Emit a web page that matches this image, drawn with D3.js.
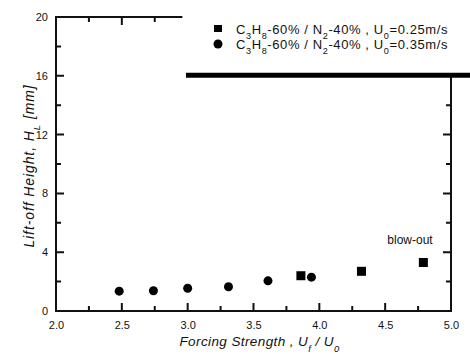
<!DOCTYPE html>
<html>
<head>
<meta charset="utf-8">
<script src="https://cdn.jsdelivr.net/npm/d3@7"></script>
<style>
  body { margin: 0; background: #fff; }
  svg { font-family: "Liberation Sans", Arial, sans-serif; }
</style>
</head>
<body>
<svg width="470" height="354"></svg>
<script>
// forcing strength Uf/U0 and lift-off height HL [mm]
const squareX = [3.86, 4.32, 4.79]
const squareY = [2.4, 2.7, 3.3]
const circleX = [2.48, 2.74, 3.0, 3.31, 3.61, 3.94]
const circleY = [1.35, 1.38, 1.55, 1.65, 2.05, 2.3]
const xTicks = [2.0, 2.5, 3.0, 3.5, 4.0, 4.5, 5.0]
const yTicks = [0, 4, 8, 12, 16, 20]
const legendLabels = ["0.25m/s", "0.35m/s"]

const margin = { top: 17, right: 19, bottom: 43, left: 56 }
const width = 470, height = 354

const x = d3.scaleLinear()
    .domain([2, 5])
    .range([margin.left, width - margin.right])
const y = d3.scaleLinear()
    .domain([0, 20])
    .range([height - margin.bottom, margin.top])

const svg = d3.select("svg")

const minorX = d3.range(2.25, 5, 0.25)
const minorY = d3.range(2, 20, 2)
const isMajorX = d => Math.abs(d * 2 - Math.round(d * 2)) < 1e-6
const isMajorY = d => d % 4 === 0

// tick labels from d3 axes
svg.append("g")
    .attr("transform", `translate(0,${y(0)})`)
    .call(d3.axisBottom(x).tickValues(xTicks).tickSize(0).tickPadding(10).tickFormat(d3.format(".1f")))
    .call(g => g.select(".domain").remove())
    .call(g => g.selectAll("text").attr("font-size", 11).attr("fill", "#111"))
svg.append("g")
    .attr("transform", `translate(${x(2)},0)`)
    .call(d3.axisLeft(y).tickValues(yTicks).tickSize(0).tickPadding(8))
    .call(g => g.select(".domain").remove())
    .call(g => g.selectAll("text").attr("font-size", 11).attr("fill", "#111"))

// inward tick marks, drawn as one path
const tickPath = d3.path()
minorX.forEach(d => {
  const h = isMajorX(d) ? 8 : 5
  tickPath.moveTo(x(d), y(0)); tickPath.lineTo(x(d), y(0) - h)
  if (d < 3) { tickPath.moveTo(x(d), y(20)); tickPath.lineTo(x(d), y(20) + h) }
})
minorY.forEach(d => {
  const w = isMajorY(d) ? 8 : 5
  tickPath.moveTo(x(2), y(d)); tickPath.lineTo(x(2) + w, y(d))
  if (d < 16) { tickPath.moveTo(x(5), y(d)); tickPath.lineTo(x(5) - w, y(d)) }
})
svg.append("path")
    .attr("d", tickPath.toString())
    .attr("fill", "none")
    .attr("stroke", "#111")
    .attr("stroke-width", 2)

// frame
svg.append("path")
    .attr("d", `M${x(2.96)},${y(20)}H${x(2)}V${y(0)}H${x(5)}V${y(16)}`)
    .attr("fill", "none")
    .attr("stroke", "#111")
    .attr("stroke-width", 2)

// white legend patch with heavy rule under it
svg.append("rect")
    .attr("x", x(3.0)).attr("y", 0)
    .attr("width", width - x(3.0)).attr("height", y(16) - 2)
    .attr("fill", "#fff")
svg.append("line")
    .attr("x1", 186).attr("x2", width)
    .attr("y1", y(16) - 0.5).attr("y2", y(16) - 0.5)
    .attr("stroke", "#000").attr("stroke-width", 5)

// data
svg.append("g")
  .selectAll("rect")
  .data(squareX)
  .join("rect")
    .attr("x", d => x(d) - 4.5)
    .attr("y", (d, i) => y(squareY[i]) - 4.5)
    .attr("width", 9).attr("height", 9)
    .attr("fill", "#000")

svg.append("g")
  .selectAll("circle")
  .data(circleX)
  .join("circle")
    .attr("cx", d => x(d))
    .attr("cy", (d, i) => y(circleY[i]))
    .attr("r", 4.5)
    .attr("fill", "#000")

svg.append("text")
    .attr("x", 410).attr("y", 244)
    .attr("text-anchor", "middle")
    .attr("font-size", 12)
    .attr("fill", "#111")
    .text("blow-out")

// subscripted text helper
function rich(sel, parts) {
  parts.forEach(p => {
    const t = sel.append("tspan").text(p[0])
    if (p[1]) t.attr("baseline-shift", "sub").attr("font-size", "70%")
  })
}

// legend
const legend = svg.append("g").attr("font-size", 13).attr("fill", "#111").attr("letter-spacing", 0.6)
legend.append("rect").attr("x", 214).attr("y", 25).attr("width", 8).attr("height", 7).attr("fill", "#000")
legend.append("circle").attr("cx", 218).attr("cy", 44).attr("r", 4.5).attr("fill", "#000")
legendLabels.forEach((lab, i) => {
  const t = legend.append("text").attr("x", 236).attr("y", 34 + i * 15)
  rich(t, [["C"], ["3", 1], ["H"], ["8", 1], ["-60% / N"], ["2", 1], ["-40% , U"], ["0", 1], ["=" + lab]])
})

// axis titles
const yTitle = svg.append("text")
    .attr("transform", `translate(34,${(y(0) + y(20)) / 2 + 2}) rotate(-90)`)
    .attr("text-anchor", "middle")
    .attr("font-size", 14)
    .attr("font-style", "italic")
    .attr("letter-spacing", 0.9)
    .attr("fill", "#111")
rich(yTitle, [["Lift-off Height, H"], ["L", 1], [" [mm]"]])

const xTitle = svg.append("text")
    .attr("x", (x(2) + x(5)) / 2 + 6)
    .attr("y", 346)
    .attr("text-anchor", "middle")
    .attr("font-size", 13.5)
    .attr("font-style", "italic")
    .attr("letter-spacing", 0.4)
    .attr("fill", "#111")
rich(xTitle, [["Forcing Strength , U"], ["f", 1], [" / U"], ["0", 1]])
</script>
</body>
</html>
